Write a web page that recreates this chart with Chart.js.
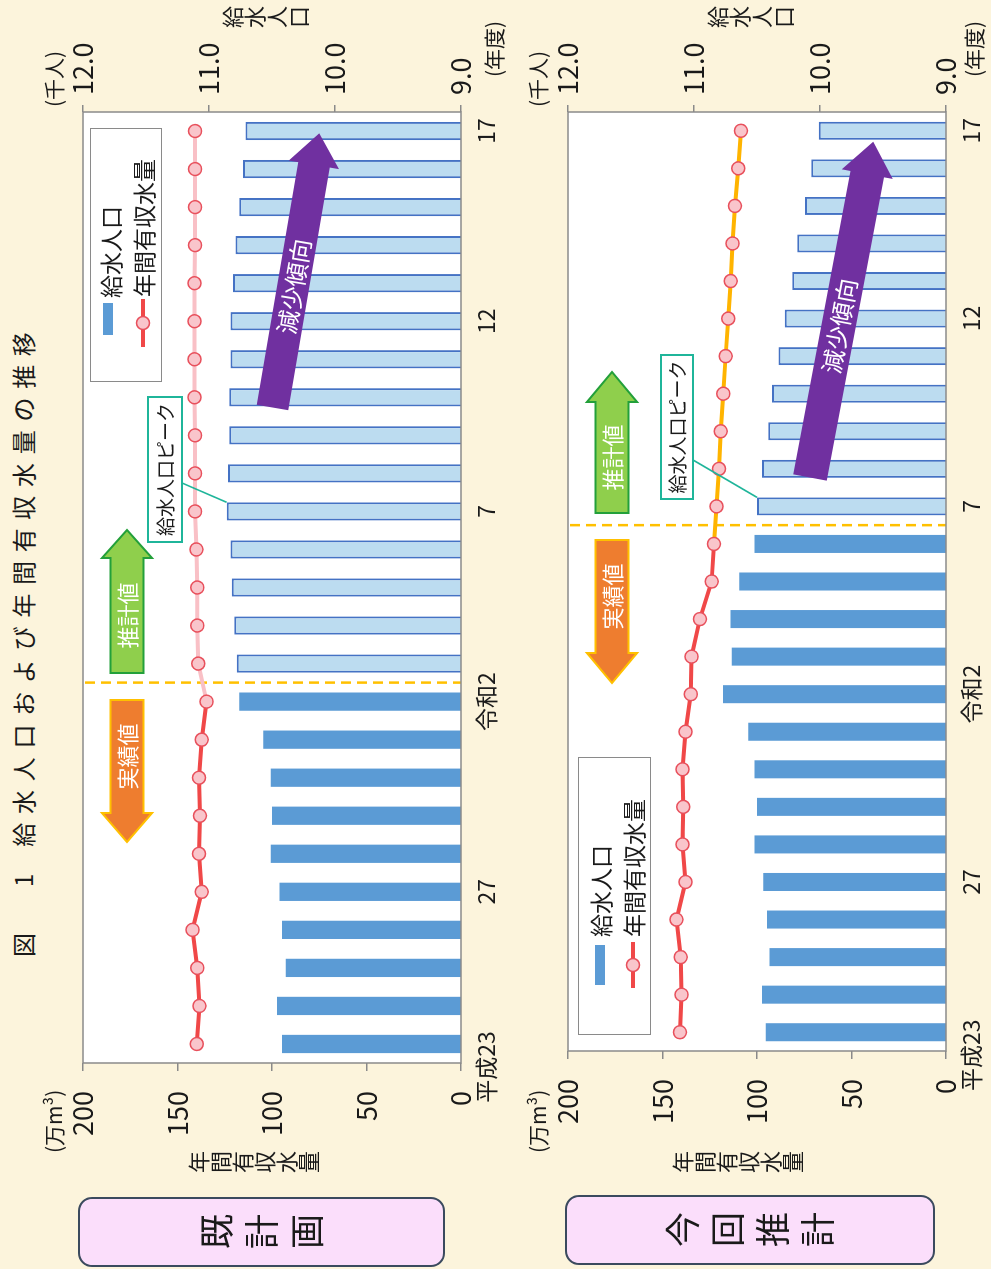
<!DOCTYPE html>
<html lang="ja">
<head>
<meta charset="utf-8">
<script src="https://cdn.jsdelivr.net/npm/chart.js@4.4.1/dist/chart.umd.min.js"></script>
<style>
  html, body { margin: 0; padding: 0; width: 991px; height: 1269px; overflow: hidden; background: #fcf4dc; }
  #stage {
    position: absolute; left: 0; top: 0; width: 1269px; height: 991px;
    transform-origin: 0 0; transform: translate(0, 1269px) rotate(-90deg);
    font-family: 'Noto Sans CJK JP', 'Noto Sans', sans-serif; color: #1a1a1a;
  }
  canvas { position: absolute; left: 0; }
  .abs { position: absolute; white-space: nowrap; }
  .vt { writing-mode: vertical-rl; text-orientation: upright; }
  .unit { font-size: 21px; line-height: 24px; }
  .axisTitle { font-size: 22px; line-height: 22px; }
  .tag {
    position: absolute; box-sizing: border-box; background: #fbdefb;
    border: 2px solid #3b4a5e; border-radius: 14px;
    display: flex; align-items: center; justify-content: center;
  }
  .tag span { writing-mode: vertical-rl; text-orientation: upright; font-size: 35px; letter-spacing: 10px; padding-top: 10px; line-height: 40px; }
  .legend { position: absolute; box-sizing: border-box; background: #fff; border: 1.5px solid #8a8a8a; }
  .legText { font-size: 23px; line-height: 26px; }
</style>
</head>
<body>
<div id="stage">
  <div class="abs" style="left:312px;top:8px;font-size:24px;line-height:30px;"><span>図</span><span style="margin-left:46px">1</span><span style="margin-left:27px;letter-spacing:8.7px">給水人口および年間有収水量の推移</span></div>

  <canvas id="planChart" width="1269" height="506" style="top:0"></canvas>
  <canvas id="revisedChart" width="1269" height="506" style="top:485px"></canvas>

  <!-- upper panel: 既計画 -->
  <div class="tag" style="left:2px;top:78px;width:70px;height:367px;"><span>既計画</span></div>
  <div class="abs unit" style="left:116px;top:41px;">(万m³)</div>
  <div class="abs vt axisTitle" style="left:96px;top:188px;">年間有収水量</div>
  <div class="abs unit" style="left:1162px;top:41px;">(千人)</div>
  <div class="abs vt axisTitle" style="left:1241px;top:222px;">給水人口</div>
  <div class="abs unit" style="left:1192px;top:481px;">(年度)</div>
  <div class="legend" style="left:887px;top:90px;width:254px;height:72px;"></div>
  <div class="abs" style="left:934px;top:103px;width:32px;height:10px;background:#5b9bd5;"></div>
  <div class="abs legText" style="left:971px;top:97px;">給水人口</div>
  <svg class="abs" style="left:922px;top:134px;" width="48" height="18"><line x1="0" y1="9" x2="48" y2="9" stroke="#f04848" stroke-width="4"/><circle cx="24" cy="9" r="6.5" fill="#f9c5cb" stroke="#e8505c" stroke-width="1.5"/></svg>
  <div class="abs legText" style="left:972px;top:130px;">年間有収水量</div>

  <!-- lower panel: 今回推計 -->
  <div class="tag" style="left:4px;top:565px;width:70px;height:370px;"><span>今回推計</span></div>
  <div class="abs unit" style="left:116px;top:525px;">(万m³)</div>
  <div class="abs vt axisTitle" style="left:96px;top:672px;">年間有収水量</div>
  <div class="abs unit" style="left:1162px;top:525px;">(千人)</div>
  <div class="abs vt axisTitle" style="left:1241px;top:707px;">給水人口</div>
  <div class="abs unit" style="left:1192px;top:961px;">(年度)</div>
  <div class="legend" style="left:234px;top:578px;width:278px;height:73px;"></div>
  <div class="abs" style="left:284px;top:595px;width:40px;height:10px;background:#5b9bd5;"></div>
  <div class="abs legText" style="left:332px;top:587px;">給水人口</div>
  <svg class="abs" style="left:281px;top:624px;" width="46" height="18"><line x1="0" y1="9" x2="46" y2="9" stroke="#f04848" stroke-width="4"/><circle cx="23" cy="9" r="6.5" fill="#f9c5cb" stroke="#e8505c" stroke-width="1.5"/></svg>
  <div class="abs legText" style="left:332px;top:620px;">年間有収水量</div>
</div>

<script>
// Fiscal years on the category axis
const years = ['平成23','平成24','平成25','平成26','平成27','平成28','平成29','平成30',
  '令和元','令和2','令和3','令和4','令和5','令和6','令和7','令和8','令和9','令和10',
  '令和11','令和12','令和13','令和14','令和15','令和16','令和17'];
// Years that carry a visible tick label, and the text shown for each
const tickYears = ['平成23','平成27','令和2','令和7','令和12','令和17'];
const tickTexts = ['平成23','27','令和2','7','12','17'];

// 既計画: 給水人口 (千人) and 年間有収水量 (万m³)
const planPopulation = [10.42,10.46,10.39,10.42,10.44,10.51,10.50,10.51,10.57,10.76,
  10.78,10.80,10.82,10.83,10.86,10.85,10.84,10.84,10.83,10.83,10.81,10.79,10.76,10.73,10.71];
const planWater = [139.8,138.4,139.5,142.0,137.2,138.6,138.1,138.6,137.2,134.6,
  139.0,139.5,139.5,140.0,140.7,140.7,140.7,141.0,141.0,141.0,141.0,140.7,140.7,140.7,140.7];

// 今回推計: 給水人口 (千人) and 年間有収水量 (万m³)
const revisedPopulation = [10.43,10.46,10.40,10.42,10.45,10.52,10.50,10.52,10.57,10.77,
  10.70,10.71,10.64,10.52,10.50,10.46,10.41,10.38,10.33,10.28,10.22,10.18,10.12,10.07,10.01];
const revisedWater = [140.8,139.9,140.4,142.6,137.8,139.4,139.0,139.4,137.8,135.0,
  134.6,130.2,124.0,122.8,121.4,120.1,119.2,117.8,116.6,115.2,113.9,112.9,111.7,109.9,108.5];

// Last year of recorded results, and the year marked as the population peak
const planActualEnd = '令和2';
const revisedActualEnd = '令和6';
const peakYear = '令和7';

const FONT = "'Noto Sans CJK JP', 'Noto Sans', sans-serif";
Chart.defaults.font.family = FONT;
Chart.defaults.color = '#1a1a1a';

const RED = '#f04848';
const AXIS = '#8a8a8a';

function blockArrow(ctx, a) {
  const dx = a.to[0] - a.from[0], dy = a.to[1] - a.from[1];
  const len = Math.hypot(dx, dy), ang = Math.atan2(dy, dx);
  const sw = a.shaft / 2, hw = a.head / 2, neck = len - a.headLen;
  ctx.save();
  ctx.translate(a.from[0], a.from[1]);
  ctx.rotate(ang);
  ctx.beginPath();
  ctx.moveTo(0, -sw); ctx.lineTo(neck, -sw); ctx.lineTo(neck, -hw);
  ctx.lineTo(len, 0); ctx.lineTo(neck, hw); ctx.lineTo(neck, sw); ctx.lineTo(0, sw);
  ctx.closePath();
  ctx.fillStyle = a.fill; ctx.fill();
  if (a.stroke) { ctx.strokeStyle = a.stroke; ctx.lineWidth = a.strokeW; ctx.lineJoin = 'miter'; ctx.stroke(); }
  ctx.translate(neck / 2, 0);
  if (Math.abs(ang) > Math.PI / 2) ctx.rotate(Math.PI);
  ctx.fillStyle = '#fff';
  ctx.font = a.font;
  ctx.textAlign = 'center'; ctx.textBaseline = 'middle';
  ctx.fillText(a.text, 0, 1);
  ctx.restore();
}

// Plot background, period divider, frame, arrows and the peak callout
const panelDecor = {
  id: 'panelDecor',
  beforeDraw(chart) {
    const { ctx, chartArea: a } = chart;
    ctx.save(); ctx.fillStyle = '#fff';
    ctx.fillRect(a.left, a.top, a.right - a.left, a.bottom - a.top);
    ctx.restore();
  },
  beforeDatasetsDraw(chart, args, o) {
    const { ctx, chartArea: a, scales: { x } } = chart;
    const i = years.indexOf(o.actualEnd);
    const xd = (x.getPixelForValue(i) + x.getPixelForValue(i + 1)) / 2;
    ctx.save();
    ctx.strokeStyle = '#ffc000'; ctx.lineWidth = 2.5; ctx.setLineDash([10, 6]);
    ctx.beginPath(); ctx.moveTo(xd, a.top + 2); ctx.lineTo(xd, a.bottom); ctx.stroke();
    ctx.restore();
  },
  afterDatasetsDraw(chart, args, o) {
    const { ctx, chartArea: a } = chart;
    ctx.save();
    ctx.strokeStyle = AXIS; ctx.lineWidth = 1.5;
    ctx.strokeRect(a.left, a.top, a.right - a.left, a.bottom - a.top);
    ctx.restore();

    blockArrow(ctx, Object.assign({ text: '推計値', fill: '#8fcf4c', stroke: '#23a03a', strokeW: 2, font: `22px ${FONT}` }, o.forecast));
    blockArrow(ctx, Object.assign({ text: '実績値', fill: '#ee7d2f', stroke: '#ffc000', strokeW: 2, font: `22px ${FONT}` }, o.actual));
    blockArrow(ctx, Object.assign({ text: '減少傾向', fill: '#7030a0', font: `24px ${FONT}` }, o.trend));

    // callout pointing at the peak bar
    const p = years.indexOf(peakYear);
    const bar = chart.getDatasetMeta(1).data[p];
    const tx = bar.x + bar.width / 2, ty = bar.y;
    const [bx, by, bw, bh] = o.callout;
    ctx.save();
    ctx.strokeStyle = '#1fb59a'; ctx.lineWidth = 1.6;
    ctx.beginPath(); ctx.moveTo(o.leaderFrom[0], o.leaderFrom[1]); ctx.lineTo(tx, ty); ctx.stroke();
    ctx.fillStyle = '#fff'; ctx.fillRect(bx, by, bw, bh);
    ctx.lineWidth = 2; ctx.strokeRect(bx, by, bw, bh);
    ctx.fillStyle = '#1a1a1a'; ctx.font = `19px ${FONT}`;
    ctx.textAlign = 'center'; ctx.textBaseline = 'middle';
    ctx.fillText('給水人口ピーク', bx + bw / 2, by + bh / 2 + 1);
    ctx.restore();
  }
};

function buildPanel(id, cfg) {
  const actualEnd = years.indexOf(cfg.actualEnd);
  return new Chart(document.getElementById(id), {
    data: {
      labels: years,
      datasets: [
        {
          type: 'line', label: '年間有収水量', data: cfg.water, yAxisID: 'yL', order: 0,
          borderColor: RED, borderWidth: 4, tension: 0,
          pointRadius: 6.5, pointBorderWidth: 1.5,
          pointBackgroundColor: '#f9c5cb', pointBorderColor: '#e8505c',
          segment: { borderColor: c => c.p0DataIndex >= actualEnd ? cfg.forecastLine : RED }
        },
        {
          type: 'bar', label: '給水人口', data: cfg.population, yAxisID: 'yR', order: 1,
          backgroundColor: c => c.dataIndex <= actualEnd ? '#5b9bd5' : '#bcdcf0',
          borderColor: '#4472c4',
          borderWidth: c => c.dataIndex <= actualEnd ? 0 : 2,
          borderSkipped: false,
          barPercentage: 0.48, categoryPercentage: 1
        }
      ]
    },
    options: {
      responsive: false, animation: false, devicePixelRatio: 1,
      layout: { padding: { top: 83, bottom: 5, left: 0, right: 0 } },
      plugins: { legend: { display: false }, tooltip: { enabled: false }, panelDecor: cfg.decor },
      scales: {
        x: {
          type: 'category', offset: true,
          grid: { display: false, drawTicks: false }, border: { display: false },
          ticks: {
            autoSkip: false, maxRotation: 0, minRotation: 0, padding: 11,
            font: { size: 23 }, color: '#1a1a1a',
            callback: (v, i) => {
              const k = tickYears.indexOf(years[i]);
              if (k < 0) return '';
              // the first label sits a little toward the left end of the axis
              return i === 0 ? tickTexts[k] + '\u3000\u3000' : tickTexts[k];
            }
          },
          afterFit: s => { s.height = 40; }
        },
        yL: {
          type: 'linear', position: 'left', min: 0, max: 200,
          grid: { drawOnChartArea: false, tickLength: 8, color: AXIS, lineWidth: 1.5 },
          border: { display: false },
          ticks: { stepSize: 50, padding: 20, font: { size: 27 }, color: '#1a1a1a' },
          afterFit: s => { s.width = cfg.leftWidth; }
        },
        yR: {
          type: 'linear', position: 'right', min: 9, max: 12,
          grid: { drawOnChartArea: false, tickLength: 7, color: AXIS, lineWidth: 1.5 },
          border: { display: false },
          ticks: { stepSize: 1, padding: 10, font: { size: 27 }, color: '#1a1a1a', callback: v => v.toFixed(1) },
          afterFit: s => { s.width = 112; }
        }
      }
    },
    plugins: [panelDecor]
  });
}

buildPanel('planChart', {
  population: planPopulation, water: planWater, actualEnd: planActualEnd,
  forecastLine: '#f9c0c6', leftWidth: 206,
  decor: {
    actualEnd: planActualEnd,
    forecast: { from: [596, 127], to: [739, 127], shaft: 33, head: 50, headLen: 28 },
    actual: { from: [569, 127], to: [427, 127], shaft: 33, head: 50, headLen: 29 },
    trend: { from: [861.5, 272.5], to: [1135.7, 319.3], shaft: 32, head: 51, headLen: 32 },
    callout: [727, 148, 145, 34], leaderFrom: [786, 182]
  }
});

buildPanel('revisedChart', {
  population: revisedPopulation, water: revisedWater, actualEnd: revisedActualEnd,
  forecastLine: '#ffb400', leftWidth: 218,
  decor: {
    actualEnd: revisedActualEnd,
    forecast: { from: [756, 127], to: [897, 127], shaft: 33, head: 50, headLen: 30 },
    actual: { from: [729, 127], to: [586, 127], shaft: 33, head: 50, headLen: 30 },
    trend: { from: [791.5, 325], to: [1127.3, 388.3], shaft: 34, head: 52, headLen: 33 },
    callout: [770, 176, 144, 32], leaderFrom: [809, 208]
  }
});
</script>
</body>
</html>
